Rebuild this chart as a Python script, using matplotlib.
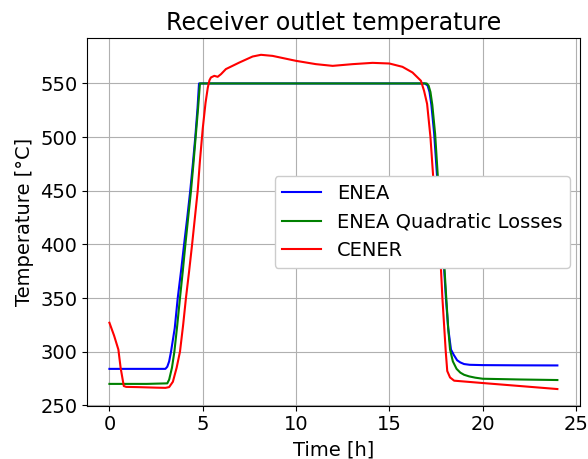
import matplotlib
matplotlib.use("Agg")
import matplotlib.pyplot as plt

# ENEA model
t_enea = [0.0, 1.0, 2.0, 3.0, 3.1, 3.2, 3.3, 3.5, 3.66, 3.85, 4.0, 4.17, 4.33, 4.47, 4.6, 4.72, 4.8,
          5.0, 10.0, 15.0, 16.9, 17.05, 17.15, 17.25, 17.4, 17.56, 17.75, 17.93, 18.02, 18.15,
          18.3, 18.45, 18.63, 18.8, 19.0, 19.3, 20.0, 22.0, 24.0]
T_enea = [284, 284, 284, 284, 286, 291, 300, 322, 350, 377, 400, 425, 450, 475, 500, 527, 550,
          550, 550, 550, 550, 548, 542, 530, 503, 462, 415, 378, 352, 322,
          302, 297, 292, 290, 288.5, 287.8, 287.5, 287.3, 287.2]

# ENEA with quadratic losses
t_quad = [0.0, 1.0, 2.0, 3.1, 3.2, 3.35, 3.48, 3.63, 3.78, 3.93, 4.07, 4.22, 4.37, 4.5, 4.62, 4.75, 4.85,
          5.0, 10.0, 15.0, 17.0, 17.1, 17.2, 17.3, 17.45, 17.6, 17.78, 17.95, 18.04, 18.15, 18.25,
          18.4, 18.6, 18.8, 19.0, 19.27, 19.6, 20.0, 22.0, 24.0]
T_quad = [270, 270, 270, 270.5, 274, 285, 300, 324, 350, 375, 400, 425, 450, 475, 500, 527, 550,
          550, 550, 550, 550, 548, 542, 530, 503, 462, 415, 378, 352, 322, 302,
          291, 284, 280.5, 278.5, 277, 275.8, 274.8, 274.1, 273.6]

# CENER model
t_cener = [0.0, 0.25, 0.48, 0.6, 0.77, 0.9, 1.5, 2.5, 3.0, 3.2, 3.4, 3.6, 3.78, 3.95, 4.1, 4.27, 4.43,
           4.58, 4.73, 4.85, 5.0, 5.15, 5.27, 5.36, 5.44, 5.62, 5.8, 5.98, 6.24, 6.96, 7.67, 8.12, 8.74,
           9.99, 11.06, 11.96, 13.03, 14.1, 15.0, 15.7, 16.24, 16.69, 16.86, 17.02, 17.2, 17.36, 17.55,
           17.76, 17.84, 17.93, 18.02, 18.1, 18.25, 18.47, 20.0, 22.0, 24.0]
T_cener = [327, 315, 302, 285, 268, 267.2, 267, 266.5, 266.3, 267, 272, 285, 300, 325, 350, 375, 400,
           425, 450, 478, 508, 532, 546, 553, 555.6, 557.1, 556.2, 558.7, 563.4, 569.5, 575.1, 576.7, 575.7,
           571.1, 568, 566.4, 568, 569.2, 568.6, 565.5, 560.2, 552.5, 543, 531, 500, 459.6, 418,
           378, 350, 325, 300, 282, 276, 273, 270.8, 268, 265.2]

fig = plt.figure(figsize=(5.88, 4.59), dpi=100)
ax = fig.add_axes([0.148, 0.116, 0.838, 0.801])

ax.plot(t_enea, T_enea, color='blue', lw=1.5, label='ENEA')
ax.plot(t_quad, T_quad, color='green', lw=1.5, label='ENEA Quadratic Losses')
ax.plot(t_cener, T_cener, color='red', lw=1.5, label='CENER')

ax.set_title('Receiver outlet temperature', fontsize=17)
ax.set_xlabel('Time [h]', fontsize=14)
ax.set_ylabel('Temperature [°C]', fontsize=14)
ax.tick_params(labelsize=14)
ax.set_xticks([0, 5, 10, 15, 20, 25])
ax.grid(True)
ax.legend(loc='center right', fontsize=14, framealpha=1)

fig.savefig('out.png', dpi=100)
